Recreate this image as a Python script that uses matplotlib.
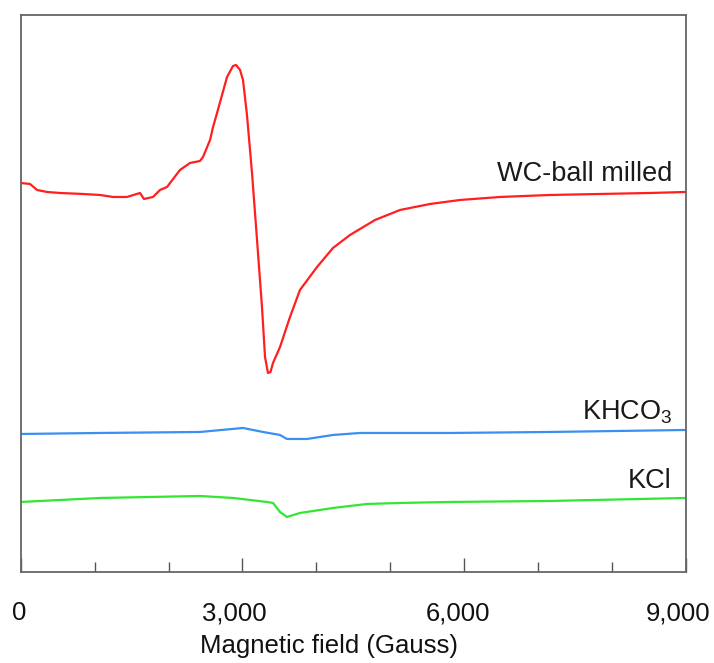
import matplotlib
matplotlib.use("Agg")
import matplotlib.pyplot as plt
import matplotlib.transforms as mtransforms

plt.rcParams['font.family'] = ['Liberation Sans', 'DejaVu Sans']
plt.rcParams['mathtext.fontset'] = 'custom'
plt.rcParams['mathtext.rm'] = 'Liberation Sans'

# ---- data (field in Gauss, intensity in arbitrary units) ----
wc_field = [0, 126, 221, 356, 532, 843, 1073, 1249, 1438, 1614, 1668, 1790, 1885,
            1980, 2155, 2291, 2426, 2467, 2562, 2603, 2657, 2792, 2873, 2914, 2968,
            3008, 3062, 3130, 3198, 3265, 3306, 3346, 3380, 3414, 3509, 3644, 3779,
            4010, 4226, 4456, 4795, 5133, 5539, 5945, 6486, 7163, 7839, 8516, 9000]
wc_signal = [389, 388, 382, 380, 379, 378, 377, 375, 375, 379, 373, 375, 382,
             385, 402, 409, 411, 415, 432, 445, 459, 495, 506, 507, 502,
             492, 457, 399, 332, 265, 215, 199, 200, 209, 225, 255, 282,
             305, 324, 337, 352, 362, 368, 372, 375, 377, 378, 379, 380]

khco3_field = [0, 1073, 2426, 3008, 3279, 3509, 3603, 3874, 4226, 4591, 5133,
               5810, 7163, 9000]
khco3_signal = [138, 139, 140, 144, 140, 137, 133, 133, 137, 139, 139,
                139, 140, 142]

kcl_field = [0, 1073, 2426, 2873, 3333, 3414, 3509, 3603, 3779, 4226, 4686,
             5133, 5810, 7163, 9000]
kcl_signal = [70, 74, 76, 74, 70, 69, 60, 55, 59, 64, 68,
              69, 70, 71, 74]

series_labels = ['WC-ball milled', 'KHCO$_{\\mathregular{3}}$', 'KCl']
label_y = [391, 152, 84]
label_x = 8813

major_ticks = [0, 3000, 6000, 9000]
major_tick_labels = ['0', '3,000', '6,000', '9,000']
minor_ticks = [1000, 2000, 4000, 5000, 7000, 8000]

# ---- figure ----
fig = plt.figure(figsize=(7.14, 6.63), dpi=100)
ax = fig.add_axes([0.029, 0.1373, 0.9315, 0.8401])

lw = 1.6
ax.plot(wc_field, wc_signal, color='#ff1f1f', lw=lw)
ax.plot(khco3_field, khco3_signal, color='#3a8ff0', lw=lw)
ax.plot(kcl_field, kcl_signal, color='#33e633', lw=lw)

for lab, y in zip(series_labels, label_y):
    ax.text(label_x, y, lab, ha='right', va='baseline', fontsize=19.5, color='#1a1a1a')

ax.set_xlim(0, 9000)
ax.set_ylim(0, 557)
ax.set_yticks([])
ax.set_xticks(major_ticks)
ax.set_xticklabels(major_tick_labels, fontsize=18.5, color='#111111')
ax.set_xticks(minor_ticks, minor=True)
ax.tick_params(axis='x', which='major', direction='in', length=10, width=1.0,
               color='#555555', pad=21)
ax.tick_params(axis='x', which='minor', direction='in', length=7, width=1.0,
               color='#555555')
ax.set_xlabel('Magnetic field (Gauss)', fontsize=18.5, color='#111111')
ax.xaxis.set_label_coords(0.4636, -0.112)

for sp in ax.spines.values():
    sp.set_color('#666666')
    sp.set_linewidth(1.3)

# small leftward shift of tick labels as in the reference
shifts = [-2, -8, -6, -8]
for t, dx in zip(ax.xaxis.get_major_ticks(), shifts):
    off = mtransforms.ScaledTranslation(dx / 100.0, 0, fig.dpi_scale_trans)
    t.label1.set_transform(t.label1.get_transform() + off)

fig.savefig('out.png', dpi=100)
